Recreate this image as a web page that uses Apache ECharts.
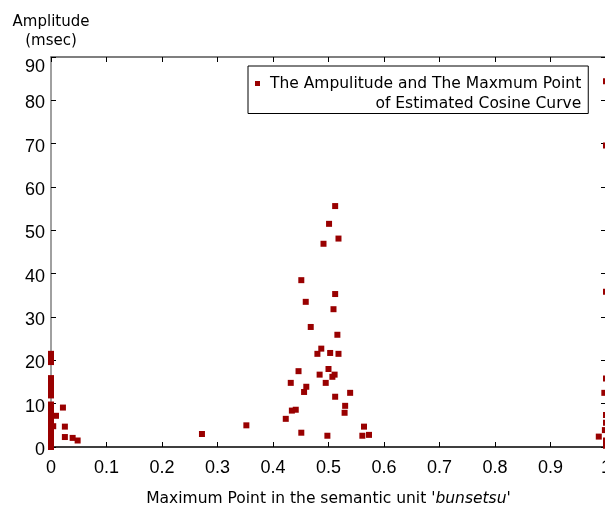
<!DOCTYPE html>
<html>
<head>
<meta charset="utf-8">
<script src="https://cdn.jsdelivr.net/npm/echarts@6/dist/echarts.min.js"></script>
<style>
html,body{margin:0;padding:0;background:#fff;}
#chart{width:605px;height:506px;}
</style>
</head>
<body>
<div id="chart"></div>
<script>
// ---- data ----
var xTickLabels = ['0','0.1','0.2','0.3','0.4','0.5','0.6','0.7','0.8','0.9','1'];
var yTickLabels = ['0','10','20','30','40','50','60','70','80','90'];
var legendLine1 = 'The Ampulitude and The Maxmum Point';
var legendLine2 = 'of Estimated Cosine Curve';
var xAxisTitle = "Maximum Point in the semantic unit '";
var xAxisTitleItalic = 'bunsetsu';
var yAxisTitle = 'Amplitude\n(msec)';

var leftX = [0,0,0,0,0,0,0,0,0,0,0,0,0, 0,0,0,0,0,0, 0,0,0,0, 0.004,0.009,0.0215,0.025,0.025,0.039,0.048];
var leftY = [0,0.8,1.6,2.5,3.3,4.2,5.0,5.9,6.7,7.5,8.3,9.1,9.8, 11.9,12.8,13.7,14.6,15.3,15.9, 19.6,20.4,21.0,21.5, 4.8,7.2,9.1,4.7,2.3,2.1,1.5];

var midX = [0.512,0.501,0.518,0.491,0.451,0.512,0.459,0.509,0.468,0.516,0.487,0.480,0.503,0.518,0.446,0.500,0.484,0.511,0.507,0.432,0.495,0.460,0.456,0.539,0.512,0.530,0.441,0.434,0.529,0.423,0.352,0.564,0.451,0.573,0.561,0.498,0.272];
var midY = [55.6,51.5,48.1,46.9,38.5,35.3,33.5,31.8,27.7,25.9,22.7,21.5,21.7,21.5,17.5,18.0,16.7,16.7,16.2,14.8,14.8,13.9,12.7,12.5,11.6,9.5,8.6,8.4,7.9,6.5,5.0,4.7,3.3,2.8,2.6,2.6,3.0];

var rightX = [1,1,1,1,0.997,1,1,0.998,0.987,1,1];
var rightY = [84.4,69.6,35.8,15.8,12.5,7.4,5.6,3.9,2.4,1.5,0.3];

// ---- build ----
function pairs(xs, ys){ var out=[]; for(var i=0;i<xs.length;i++){ out.push([xs[i], ys[i]]); } return out; }
var points = pairs(leftX, leftY).concat(pairs(midX, midY), pairs(rightX, rightY));

var markColor = '#990000';
var tickFont = "Liberation Sans";
var titleFont = "DejaVu Sans";

var chart = echarts.init(document.getElementById('chart'), null, {renderer:'canvas'});
var option = {
  backgroundColor: '#ffffff',
  animation: false,
  grid: {left: 51, right: -1, top: 57, bottom: 59, containLabel: false, outerBoundsMode: 'none'},
  legend: {
    show: true,
    left: 248, top: 66,
    orient: 'vertical',
    data: ['main'],
    icon: 'rect',
    itemWidth: 5, itemHeight: 5,
    padding: [-12.5, 7, 0, 7],
    backgroundColor: '#ffffff',
    borderColor: '#000000',
    borderWidth: 1,
    borderRadius: 0,
    selectedMode: false,
    itemStyle: {opacity: 1},
    formatter: function(){ return '{a|' + legendLine1 + '}\n{b|' + legendLine2 + '}'; },
    textStyle: {
      color: '#000', fontFamily: titleFont, fontSize: 15.5, lineHeight: 20,
      padding: [20, 0, 0, 5],
      rich: {
        a: {color: '#000', fontFamily: titleFont, fontSize: 15.5, lineHeight: 20},
        b: {color: '#000', fontFamily: titleFont, fontSize: 15.5, lineHeight: 20, align: 'right'}
      }
    }
  },
  xAxis: [{
    type: 'value', min: 0, max: 1, interval: 0.1, position: 'bottom',
    axisLine: {show: true, onZero: false, lineStyle: {color: '#000', width: 1.5}},
    axisTick: {show: true, inside: true, length: 5, lineStyle: {color: '#000'}},
    splitLine: {show: false},
    axisLabel: {
      margin: 12, color: '#000', fontFamily: tickFont, fontSize: 18,
      formatter: function(v){ var i = Math.round(v*10); return xTickLabels[i]; }
    },
    name: '{n|' + xAxisTitle + '}{i|' + xAxisTitleItalic + '}{n|\'}',
    nameLocation: 'middle', nameGap: 44,
    nameTextStyle: {
      rich: {
        n: {fontFamily: titleFont, fontSize: 15.5, color: '#000'},
        i: {fontFamily: titleFont, fontSize: 15.5, fontStyle: 'italic', color: '#000'}
      }
    }
  }, {
    type: 'value', min: 0, max: 1, interval: 0.1, position: 'top',
    axisLine: {show: true, onZero: false, lineStyle: {color: '#555', width: 1.5}},
    axisTick: {show: true, inside: true, length: 5, lineStyle: {color: '#000'}},
    splitLine: {show: false},
    axisLabel: {show: false}
  }],
  yAxis: [{
    type: 'value', min: 0, max: 90, interval: 10, position: 'left',
    axisLine: {show: true, onZero: false, lineStyle: {color: '#808080', width: 1.5}},
    axisTick: {show: true, inside: true, length: 5, lineStyle: {color: '#000'}},
    splitLine: {show: false},
    axisLabel: {
      margin: 6, color: '#000', fontFamily: tickFont, fontSize: 18,
      formatter: function(v){
        var i = Math.round(v/10);
        return (i === yTickLabels.length - 1 ? '{top|' : '{n|') + yTickLabels[i] + '}';
      },
      rich: {
        n: {fontFamily: tickFont, fontSize: 18, color: '#000', padding: [6, 0, 0, 0]},
        top: {fontFamily: tickFont, fontSize: 18, color: '#000', padding: [20, 0, 0, 0]}
      }
    },
    name: yAxisTitle, nameLocation: 'end', nameGap: 6,
    nameTextStyle: {fontFamily: titleFont, fontSize: 15, lineHeight: 19, color: '#000', align: 'center', verticalAlign: 'bottom'}
  }, {
    type: 'value', min: 0, max: 90, interval: 10, position: 'right',
    axisLine: {show: true, onZero: false, lineStyle: {color: '#000', width: 1.5}},
    axisTick: {show: true, inside: true, length: 5, lineStyle: {color: '#000'}},
    splitLine: {show: false},
    axisLabel: {show: false}
  }],
  series: [{
    name: 'main',
    type: 'scatter',
    xAxisIndex: 0, yAxisIndex: 0,
    symbol: 'rect', symbolSize: 6,
    clip: false,
    itemStyle: {color: markColor, opacity: 1},
    data: points
  }]
};
chart.setOption(option);
</script>
</body>
</html>
